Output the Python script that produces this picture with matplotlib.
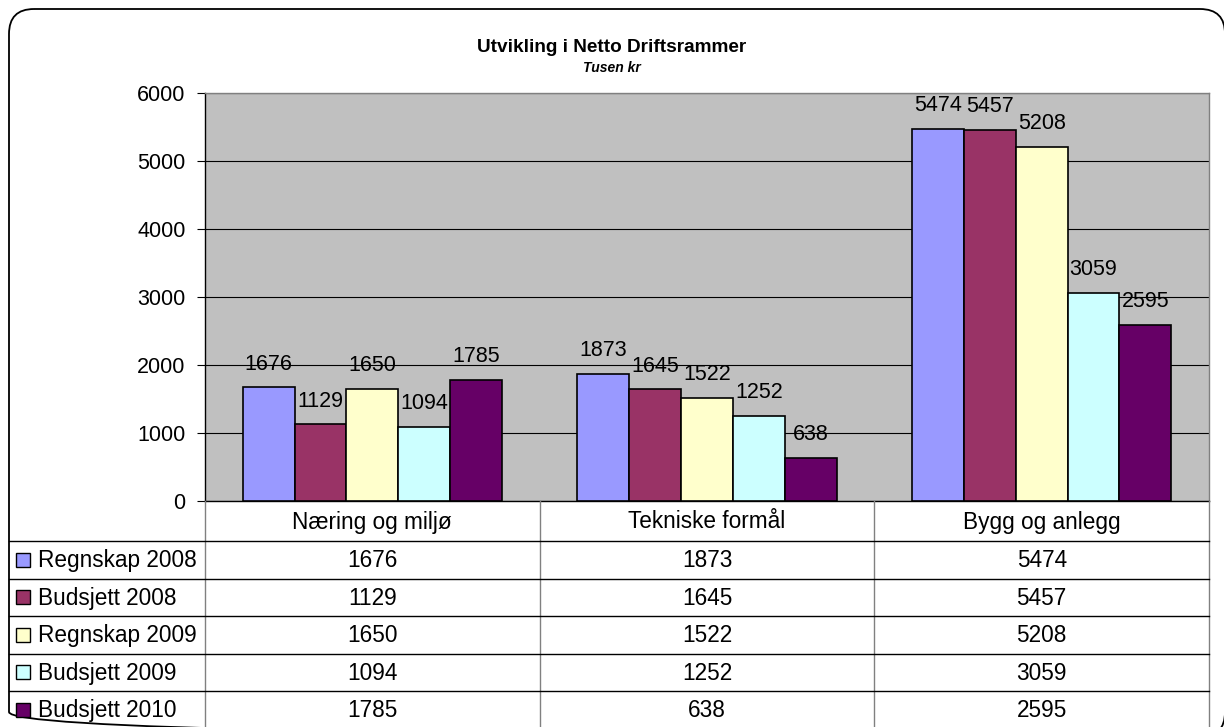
import matplotlib
matplotlib.use("Agg")
import matplotlib.pyplot as plt
from matplotlib.patches import FancyBboxPatch, Rectangle
import numpy as np

plt.rcParams["font.family"] = ["Liberation Sans", "DejaVu Sans"]

categories = ["Næring og miljø", "Tekniske formål", "Bygg og anlegg"]
series_names = ["Regnskap 2008", "Budsjett 2008", "Regnskap 2009", "Budsjett 2009", "Budsjett 2010"]
regnskap_2008 = [1676, 1873, 5474]
budsjett_2008 = [1129, 1645, 5457]
regnskap_2009 = [1650, 1522, 5208]
budsjett_2009 = [1094, 1252, 3059]
budsjett_2010 = [1785, 638, 2595]
series_values = [regnskap_2008, budsjett_2008, regnskap_2009, budsjett_2009, budsjett_2010]
colors = ["#9999FF", "#993366", "#FFFFCC", "#CCFFFF", "#660066"]
yticks = [0, 1000, 2000, 3000, 4000, 5000, 6000]

W, H = 1224, 727
fs = 15.5
fs_tab = 16.3

fig = plt.figure(figsize=(W / 100, H / 100), dpi=100)

# plot area in pixels
left, right, top, bottom = 205, 1209, 93, 501
ax = fig.add_axes([left / W, 1 - bottom / H, (right - left) / W, (bottom - top) / H])
ax.set_facecolor("#C0C0C0")

n = len(series_names)
width = 0.155
x = np.arange(len(categories))
for i, (name, vals, c) in enumerate(zip(series_names, series_values, colors)):
    pos = x + (i - (n - 1) / 2) * width
    bars = ax.bar(pos, vals, width, color=c, edgecolor="black", linewidth=1.2, zorder=3, label=name)
    for b, v in zip(bars, vals):
        ax.annotate(str(v), (b.get_x() + b.get_width() / 2, v), xytext=(0, 9),
                    textcoords="offset points", ha="center", va="bottom", fontsize=fs, zorder=4)

ax.set_xlim(-0.5, len(categories) - 0.5)
ax.set_ylim(0, 6000)
ax.set_yticks(yticks)
ax.set_xticks([])
ax.yaxis.grid(True, color="black", linewidth=0.8, zorder=0)
ax.set_axisbelow(True)
ax.tick_params(axis="y", direction="out", length=6, width=0.8, pad=8, labelsize=fs)
ax.spines["left"].set_color("black")
ax.spines["bottom"].set_color("black")
ax.spines["top"].set_color("#808080")
ax.spines["right"].set_color("#808080")
for s in ax.spines.values():
    s.set_linewidth(1)

# overlay in pixel coords for frame, title and data table
ov = fig.add_axes([0, 0, 1, 1], zorder=5)
ov.set_xlim(0, W)
ov.set_ylim(H, 0)
ov.axis("off")
ov.patch.set_alpha(0)

r = 25
ov.add_patch(FancyBboxPatch((9 + r, 9 + r), 1216 - 2 * r, 728 - 2 * r,
                            boxstyle="round,pad=%d" % r, fill=False, edgecolor="black",
                            linewidth=1.3, clip_on=False))

ov.text(W / 2, 47, "Utvikling i Netto Driftsrammer", ha="center", va="center",
        fontsize=13.7, fontweight="bold")
ov.text(W / 2, 68, "Tusen kr", ha="center", va="center", fontsize=10,
        fontweight="bold", fontstyle="italic")

# data table
col_edges = np.linspace(left, right, len(categories) + 1)
row_top = 541
row_h = 37.5
for xe in col_edges:
    ov.plot([xe, xe], [bottom, H], color="#808080", linewidth=1)
ov.plot([9, right], [row_top, row_top], color="black", linewidth=1)
for k in range(1, n):
    y = row_top + k * row_h
    ov.plot([9, right], [y, y], color="black", linewidth=1)

centers = (col_edges[:-1] + col_edges[1:]) / 2
for cx, cat in zip(centers, categories):
    ov.text(cx, (bottom + row_top) / 2 + 1, cat, ha="center", va="center", fontsize=fs_tab)

for k, (name, vals, c) in enumerate(zip(series_names, series_values, colors)):
    yc = row_top + (k + 0.5) * row_h
    ov.add_patch(Rectangle((16, yc - 7), 14, 14, facecolor=c, edgecolor="black", linewidth=1))
    ov.text(38, yc + 1, name, ha="left", va="center", fontsize=fs_tab)
    for cx, v in zip(centers, vals):
        ov.text(cx, yc + 1, str(v), ha="center", va="center", fontsize=fs_tab)

fig.savefig("out.png", dpi=100)
